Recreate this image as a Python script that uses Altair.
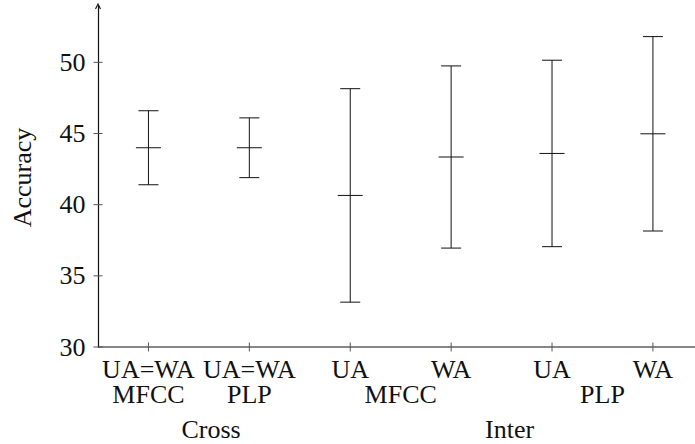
import altair as alt
import pandas as pd

# Accuracy (mean ± std) per evaluation setting
setting = ["UA=WA", "UA=WA", "UA", "WA", "UA", "WA"]
feature = ["MFCC", "PLP", "MFCC", "MFCC", "PLP", "PLP"]
protocol = ["Cross", "Cross", "Inter", "Inter", "Inter", "Inter"]
mean_acc = [44.0, 44.0, 40.65, 43.35, 43.6, 44.98]
std_acc = [2.6, 2.1, 7.5, 6.4, 6.55, 6.83]
y_ticks = [30, 35, 40, 45, 50]

FONT = "Liberation Serif, Times New Roman, serif"
FS = 26
INK = "#111111"

Y_MIN, Y_MAX = 30, 54.03
X_MIN, X_MAX = -0.5, 5.417

df = pd.DataFrame({
    "idx": list(range(len(setting))),
    "setting": setting,
    "feature": feature,
    "protocol": protocol,
    "mean": mean_acc,
    "std": std_acc,
})
df["lo"] = df["mean"] - df["std"]
df["hi"] = df["mean"] + df["std"]
df["base"] = float(Y_MIN)

# second label row: one feature label per (protocol, feature) group
feat_df = df.groupby(["protocol", "feature"], as_index=False)["idx"].mean()
feat_df["base"] = float(Y_MIN)
# third label row: protocol names, anchored a little right of the group middle
prot_df = df.groupby("protocol", as_index=False)["idx"].mean()
prot_df["pos"] = prot_df["idx"] + prot_df["protocol"].map({"Cross": 0.12, "Inter": 0.08})
prot_df["base"] = float(Y_MIN)

xs = alt.Scale(domain=[X_MIN, X_MAX], nice=False, zero=False)
ys = alt.Scale(domain=[Y_MIN, Y_MAX], nice=False, zero=False)

X = alt.X("idx:Q", scale=xs, axis=None)
X2 = alt.X2("idx:Q")

base = alt.Chart(df)

whisker = base.mark_rule(color=INK, strokeWidth=1).encode(
    x=X,
    y=alt.Y("lo:Q", scale=ys, axis=alt.Axis(
        values=y_ticks, ticks=False, domain=True, domainColor=INK,
        domainWidth=1.2, grid=False, labelFont=FONT, labelFontSize=FS,
        labelColor=INK, labelPadding=13, title="Accuracy", titleFont=FONT,
        titleFontSize=FS, titleFontWeight="normal", titleColor=INK,
        titleAngle=270, titleX=-68, titleY=172, titleAlign="center",
        titleBaseline="alphabetic")),
    y2="hi:Q",
)


def hbar(col, half):
    return base.mark_rule(color=INK, strokeWidth=1, xOffset=-half, x2Offset=half).encode(
        x=X, x2=X2, y=alt.Y(f"{col}:Q", scale=ys))


cap_lo = hbar("lo", 10)
cap_hi = hbar("hi", 10)
mid = hbar("mean", 12.5)

# bottom axis line running to the right edge
x_line = alt.Chart(pd.DataFrame({"a": [X_MIN], "b": [X_MAX], "base": [float(Y_MIN)]})).mark_rule(
    color=INK, strokeWidth=1.2).encode(
    x=alt.X("a:Q", scale=xs, axis=None), x2="b:Q", y=alt.Y("base:Q", scale=ys))

# centred tick marks on both axes
ytick_df = pd.DataFrame({"v": y_ticks, "a": [X_MIN] * len(y_ticks)})
y_tickmarks = alt.Chart(ytick_df).mark_rule(
    color="#555555", strokeWidth=1, xOffset=-4.5, x2Offset=4.5).encode(
    x=alt.X("a:Q", scale=xs, axis=None), x2="a:Q", y=alt.Y("v:Q", scale=ys))
x_tickmarks = base.mark_rule(
    color="#555555", strokeWidth=1, yOffset=-4.5, y2Offset=4.5).encode(
    x=X, y=alt.Y("base:Q", scale=ys), y2="base:Q")

# arrow head at the top of the y axis
arrow = alt.Chart(pd.DataFrame({"a": [X_MIN], "top": [Y_MAX - 0.1]})).mark_point(
    shape="M-1,1L0,-1L1,1", filled=False,
    size=25, stroke=INK, strokeWidth=1.1, opacity=1).encode(
    x=alt.X("a:Q", scale=xs, axis=None), y=alt.Y("top:Q", scale=ys))

txt = dict(font=FONT, fontSize=FS, color=INK, align="center", baseline="alphabetic")
row1 = base.mark_text(dy=31, **txt).encode(
    x=X, y=alt.Y("base:Q", scale=ys), text="setting:N")
row2 = alt.Chart(feat_df).mark_text(dy=56, **txt).encode(
    x=alt.X("idx:Q", scale=xs, axis=None), y=alt.Y("base:Q", scale=ys), text="feature:N")
row3 = alt.Chart(prot_df).mark_text(dy=91, **txt).encode(
    x=alt.X("pos:Q", scale=xs, axis=None), y=alt.Y("base:Q", scale=ys), text="protocol:N")

chart = alt.layer(
    whisker, cap_lo, cap_hi, mid, x_line, y_tickmarks, x_tickmarks, arrow,
    row1, row2, row3,
).properties(
    width=597, height=342,
    autosize=alt.AutoSizeParams(type="none"),
    padding={"left": 98, "top": 5, "right": 0, "bottom": 97},
    background="white",
).configure_view(stroke=None)

chart.save("out.html", embed_options={"renderer": "svg", "actions": False})
